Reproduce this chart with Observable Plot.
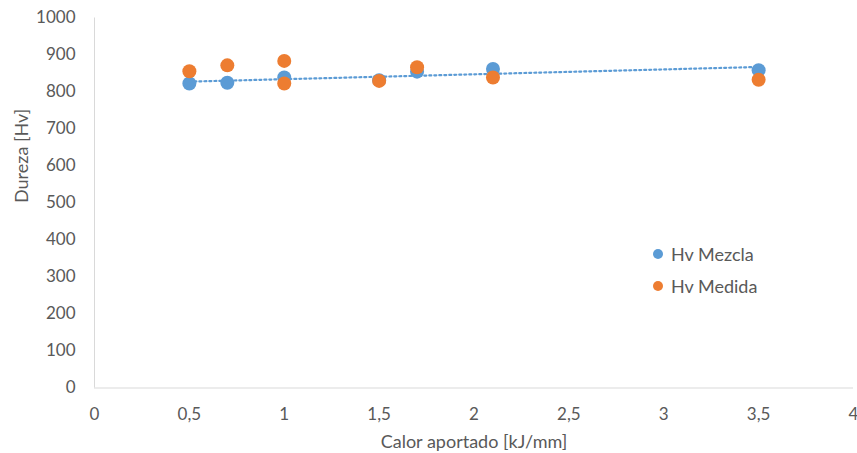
<!DOCTYPE html>
<html>
<head>
<meta charset="utf-8">
<script src="https://cdn.jsdelivr.net/npm/d3@7"></script>
<script src="https://cdn.jsdelivr.net/npm/@observablehq/plot@0.6"></script>
<style>
  html, body { margin: 0; padding: 0; background: #fff; }
  #wrap { position: relative; width: 857px; height: 453px; font-family: Lato, sans-serif; }
  .legend { position: absolute; left: 653px; top: 238px; color: #595959; font-size: 18px; }
  .legend .item { display: flex; align-items: center; height: 32px; }
  .legend .sw { width: 10px; height: 10px; border-radius: 50%; margin-right: 8px; }
</style>
</head>
<body>
<div id="wrap"></div>
<script>
// Data
const calorMezcla = [0.5, 0.7, 1, 1.5, 1.7, 2.1, 3.5];
const hvMezcla    = [823, 825, 839, 832, 855, 862, 859];
const calorMedida = [0.5, 0.7, 1, 1, 1.5, 1.7, 2.1, 3.5];
const hvMedida    = [856, 872, 884, 823, 830, 867, 839, 833];

const seriesNames  = ["Hv Mezcla", "Hv Medida"];
const seriesColors = ["#5B9BD5", "#ED7D31"];

const xTicks = [0, 0.5, 1, 1.5, 2, 2.5, 3, 3.5, 4];
const yTicks = [0, 100, 200, 300, 400, 500, 600, 700, 800, 900, 1000];

const xTitle = "Calor aportado [kJ/mm]";
const yTitle = "Dureza [Hv]";

const mezcla = calorMezcla.map((c, i) => ({calor: c, hv: hvMezcla[i]}));
const medida = calorMedida.map((c, i) => ({calor: c, hv: hvMedida[i]}));

const axisColor = "#d9d9d9";
const textColor = "#595959";

const chart = Plot.plot({
  width: 857,
  height: 453,
  marginTop: 17.5,
  marginBottom: 65.5,
  marginLeft: 94,
  marginRight: 4,
  style: {fontFamily: "Lato, sans-serif", fontSize: "17px", color: textColor, background: "white", overflow: "visible"},
  x: {domain: [0, 4], ticks: xTicks, tickFormat: d => String(d).replace(".", ","), tickSize: 0, tickPadding: 20, label: null},
  y: {domain: [0, 1000], ticks: yTicks, tickFormat: d => String(d), tickSize: 0, tickPadding: 19, label: null},
  marks: [
    Plot.ruleX([0], {stroke: axisColor, strokeWidth: 1}),
    Plot.ruleY([0], {stroke: axisColor, strokeWidth: 1}),
    Plot.linearRegressionY(mezcla, {x: "calor", y: "hv", stroke: seriesColors[0], strokeWidth: 2.2, strokeDasharray: "2 3", ci: 0}),
    Plot.dot(mezcla, {x: "calor", y: "hv", r: 7, fill: seriesColors[0], stroke: "none"}),
    Plot.dot(medida, {x: "calor", y: "hv", r: 7, fill: seriesColors[1], stroke: "none"}),
    Plot.text([yTitle], {frameAnchor: "left", rotate: -90, dx: -72, fontSize: 18, fill: textColor}),
    Plot.text([xTitle], {frameAnchor: "bottom", lineAnchor: "middle", dy: 54, fontSize: 18, fill: textColor})
  ]
});

const wrap = document.getElementById("wrap");
wrap.appendChild(chart);

const legend = document.createElement("div");
legend.className = "legend";
seriesNames.forEach((name, i) => {
  const item = document.createElement("div");
  item.className = "item";
  const sw = document.createElement("span");
  sw.className = "sw";
  sw.style.background = seriesColors[i];
  const label = document.createElement("span");
  label.textContent = name;
  item.appendChild(sw);
  item.appendChild(label);
  legend.appendChild(item);
});
wrap.appendChild(legend);
</script>
</body>
</html>
